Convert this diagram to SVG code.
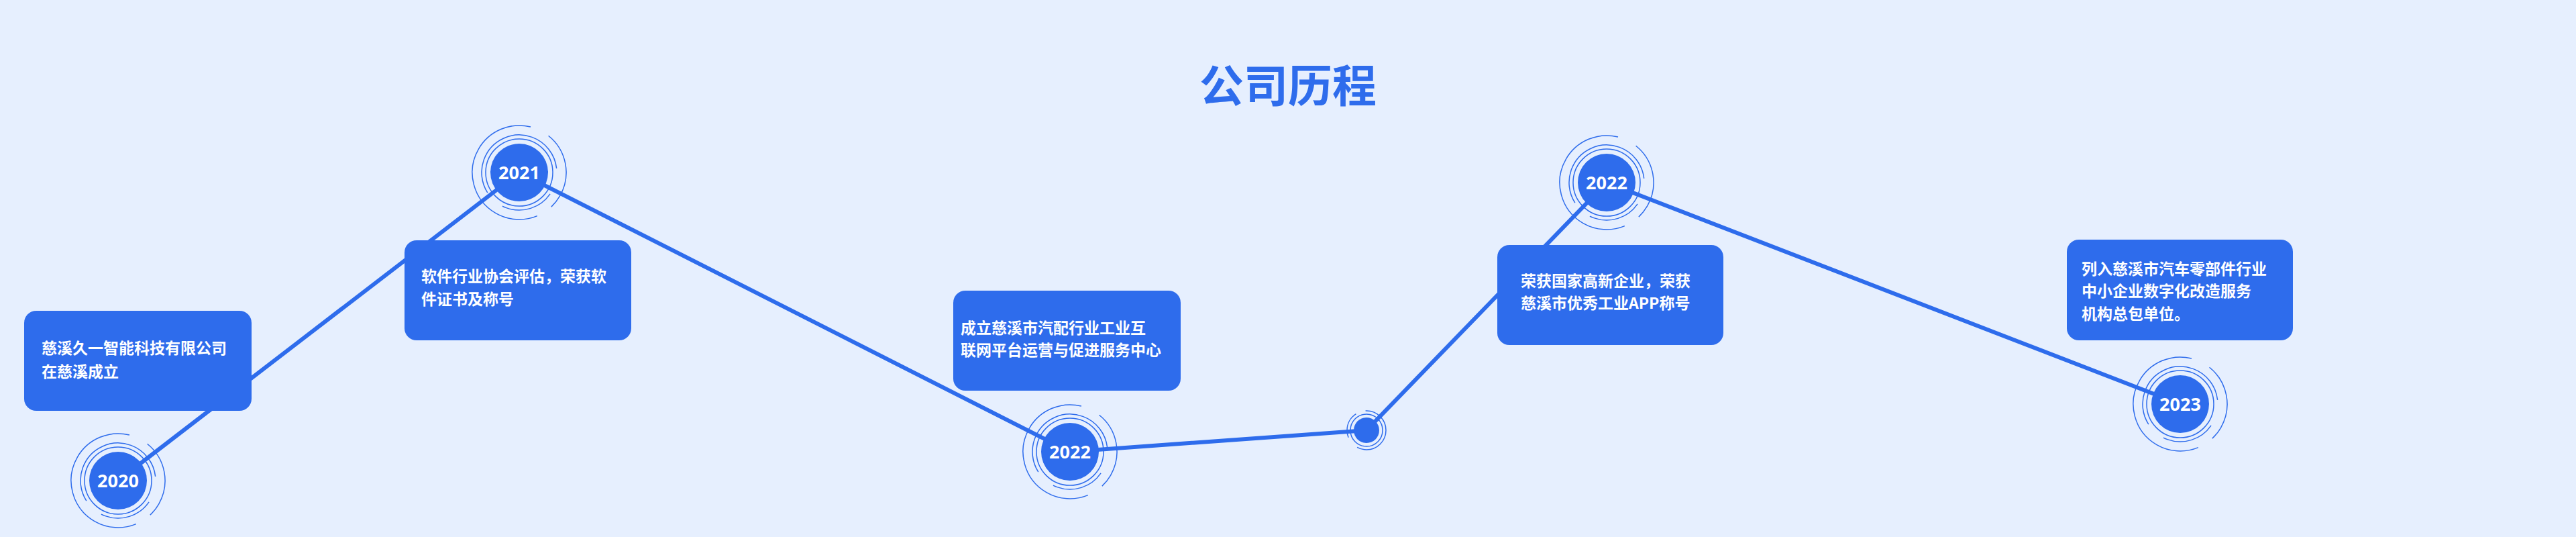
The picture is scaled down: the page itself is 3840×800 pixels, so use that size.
<svg xmlns="http://www.w3.org/2000/svg" width="3840" height="800" viewBox="0 0 3840 800">
<style>
.box{fill:#2e6cec}
.bt{font-family:"Noto Sans CJK SC","Liberation Sans",sans-serif;font-weight:bold;font-size:23px;fill:#fff}
.dot{fill:#2e6cec}
.yr{font-family:"Open Sans","Liberation Sans",sans-serif;font-weight:bold;font-size:27px;fill:#fff;text-anchor:middle}
.r1{fill:none;stroke:#2e6cec;stroke-width:1.5}
.r2{fill:none;stroke:#2e6cec;stroke-width:1.5;stroke-dasharray:150 40 80 30}
.r3{fill:none;stroke:#2e6cec;stroke-width:1.5;stroke-dasharray:200 30 120 25}
.ln{stroke:#2e6cec;stroke-width:6;fill:none}
</style>
<defs>
<g id="ring"><circle class="r1" r="50"/><circle class="r2" r="56" transform="rotate(200)"/><circle class="r3" r="70" transform="rotate(120)"/><circle class="dot" r="43"/></g>
</defs>
<rect width="3840" height="800" fill="#e6effe"/>
<text x="1920" y="152" text-anchor="middle" font-family="Noto Sans CJK SC,sans-serif" font-weight="bold" font-size="66" fill="#2e6cec">公司历程</text>
<g id="connectors">
<polyline class="ln" points="176,716 774,257 1595,673 2037,641 2395,272 3250,602"/>
</g>
<g id="n2020"><use href="#ring" x="176" y="716"/><text class="yr" x="176" y="726">2020</text></g>
<g id="n2021"><use href="#ring" x="774" y="257"/><text class="yr" x="774" y="267">2021</text></g>
<g id="n2022a"><use href="#ring" x="1595" y="673"/><text class="yr" x="1595" y="683">2022</text></g>
<g id="nsmall"><circle class="r1" cx="2037" cy="641" r="24"/><circle class="r2" cx="2037" cy="641" r="29" style="stroke-dasharray:60 20 40 15"/><circle class="dot" cx="2037" cy="641" r="19"/></g>
<g id="n2022b"><use href="#ring" x="2395" y="272"/><text class="yr" x="2395" y="282">2022</text></g>
<g id="n2023"><use href="#ring" x="3250" y="602"/><text class="yr" x="3250" y="612">2023</text></g>
<g id="b1"><rect class="box" x="36" y="463" width="339" height="149" rx="18"/><text class="bt" x="62" y="527">慈溪久一智能科技有限公司</text><text class="bt" x="62" y="562">在慈溪成立</text></g>
<g id="b2"><rect class="box" x="603" y="358" width="338" height="149" rx="18"/><text class="bt" x="628" y="420">软件行业协会评估，荣获软</text><text class="bt" x="628" y="454">件证书及称号</text></g>
<g id="b3"><rect class="box" x="1421" y="433" width="339" height="149" rx="18"/><text class="bt" x="1432" y="497">成立慈溪市汽配行业工业互</text><text class="bt" x="1432" y="530">联网平台运营与促进服务中心</text></g>
<g id="b4"><rect class="box" x="2232" y="365" width="337" height="149" rx="18"/><text class="bt" x="2267" y="427">荣获国家高新企业，荣获</text><text class="bt" x="2267" y="460">慈溪市优秀工业APP称号</text></g>
<g id="b5"><rect class="box" x="3081" y="357" width="337" height="150" rx="18"/><text class="bt" x="3103" y="409">列入慈溪市汽车零部件行业</text><text class="bt" x="3103" y="442">中小企业数字化改造服务</text><text class="bt" x="3103" y="476">机构总包单位。</text></g>
</svg>
